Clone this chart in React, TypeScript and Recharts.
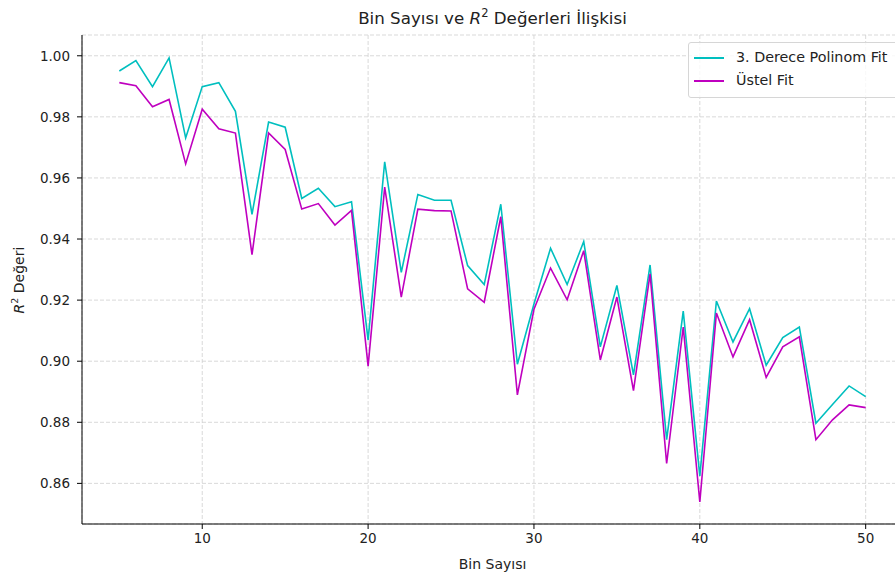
import React from 'react';
import {
  LineChart,
  Line,
  XAxis,
  YAxis,
  CartesianGrid,
} from 'recharts';

const binCounts = [
  5, 6, 7, 8, 9, 10, 11, 12, 13, 14, 15, 16, 17, 18, 19, 20, 21, 22, 23, 24, 25, 26, 27,
  28, 29, 30, 31, 32, 33, 34, 35, 36, 37, 38, 39, 40, 41, 42, 43, 44, 45, 46, 47, 48, 49, 50,
];

const polyFit = [
  0.995, 0.9984, 0.9899, 0.9993, 0.9731, 0.9899, 0.9912, 0.9818, 0.9481, 0.9783, 0.9766,
  0.9533, 0.9566, 0.9506, 0.9522, 0.9069, 0.9653, 0.9291, 0.9546, 0.9527, 0.9527, 0.9313,
  0.9251, 0.9514, 0.899, 0.9187, 0.937, 0.9251, 0.9392, 0.9047, 0.9248, 0.8955, 0.9315,
  0.8743, 0.9164, 0.8624, 0.9197, 0.9063, 0.9172, 0.8987, 0.9077, 0.9112, 0.8797, 0.8858,
  0.8919, 0.8884,
];

const expFit = [
  0.9912, 0.9902, 0.9833, 0.9857, 0.9646, 0.9825, 0.9761, 0.9747, 0.9349, 0.9747, 0.9693,
  0.9498, 0.9516, 0.9446, 0.9494, 0.8984, 0.957, 0.921, 0.9498, 0.9493, 0.9492, 0.9237,
  0.9193, 0.9473, 0.889, 0.917, 0.9305, 0.9201, 0.9362, 0.9004, 0.921, 0.8904, 0.9286,
  0.8665, 0.9112, 0.8539, 0.9158, 0.9014, 0.9136, 0.8947, 0.9047, 0.908, 0.8743, 0.8808,
  0.8857, 0.8848,
];

const xTicks = [10, 20, 30, 40, 50];
const yTicks = [0.86, 0.88, 0.9, 0.92, 0.94, 0.96, 0.98, 1.0];

const POLY_COLOR = '#00bfbf';
const EXP_COLOR = '#bf00bf';
const FONT = '"DejaVu Sans", sans-serif';

const data = binCounts.map((b, i) => ({ bin: b, poly: polyFit[i], exp: expFit[i] }));

const tickStyle = { fontSize: 13.5, fill: '#222', fontFamily: FONT };

const legendItems = [
  { name: '3. Derece Polinom Fit', color: POLY_COLOR },
  { name: 'Üstel Fit', color: EXP_COLOR },
];

export default function App() {
  return (
    <div
      style={{
        position: 'absolute',
        left: 0,
        top: 0,
        width: 895,
        height: 574,
        overflow: 'hidden',
        background: '#fff',
        fontFamily: FONT,
      }}
    >
      <LineChart
        width={920}
        height={574}
        data={data}
        margin={{ top: 35, right: 17, bottom: 0, left: 0 }}
      >
        <CartesianGrid stroke="#cfcfcf" strokeDasharray="4 2" strokeWidth={0.8} />
        <XAxis
          dataKey="bin"
          type="number"
          domain={[2.75, 52.25]}
          ticks={xTicks}
          allowDataOverflow
          height={50}
          tickSize={5}
          tickMargin={4}
          tick={tickStyle}
          axisLine={{ stroke: '#000', strokeWidth: 1 }}
          tickLine={{ stroke: '#000' }}
          label={{ value: 'Bin Sayısı', position: 'insideBottom', offset: 5, fill: '#222', fontSize: 14, fontFamily: FONT }}
        />
        <XAxis
          xAxisId="top"
          orientation="top"
          dataKey="bin"
          type="number"
          domain={[2.75, 52.25]}
          height={0}
          tick={false}
          tickLine={false}
          axisLine={{ stroke: '#000', strokeWidth: 1 }}
        />
        <YAxis
          type="number"
          domain={[0.8467, 1.0068]}
          ticks={yTicks}
          allowDataOverflow
          width={82}
          tickSize={5}
          tickMargin={7}
          tick={tickStyle}
          tickFormatter={(v: number) => v.toFixed(2)}
          axisLine={{ stroke: '#000', strokeWidth: 1 }}
          tickLine={{ stroke: '#000' }}
        />
        <Line
          xAxisId={0}
          dataKey="poly"
          name="3. Derece Polinom Fit"
          stroke={POLY_COLOR}
          strokeWidth={1.6}
          dot={false}
          activeDot={false}
          isAnimationActive={false}
        />
        <Line
          xAxisId={0}
          dataKey="exp"
          name="Üstel Fit"
          stroke={EXP_COLOR}
          strokeWidth={1.6}
          dot={false}
          activeDot={false}
          isAnimationActive={false}
        />
      </LineChart>

      {/* title, y label and legend drawn over the chart */}
      <div
        style={{
          position: 'absolute',
          left: 0,
          width: 985,
          top: 6,
          textAlign: 'center',
          fontSize: 16.7,
          color: '#222',
        }}
      >
        Bin Sayısı ve <i>R</i>
        <sup style={{ fontSize: 11.5 }}>2</sup> Değerleri İlişkisi
      </div>
      <div
        style={{
          position: 'absolute',
          left: 18,
          top: 280,
          transform: 'translate(-50%, -50%) rotate(-90deg)',
          fontSize: 14,
          whiteSpace: 'nowrap',
          color: '#222',
        }}
      >
        <i>R</i>
        <sup style={{ fontSize: 9.5 }}>2</sup> Değeri
      </div>
      <div
        style={{
          position: 'absolute',
          left: 688,
          top: 42,
          width: 240,
          height: 54,
          border: '1px solid #d6d6d6',
          borderRadius: 3,
          background: 'rgba(255,255,255,0.8)',
          padding: '0 0 0 5px',
          fontSize: 14.3,
          lineHeight: '23px',
          whiteSpace: 'nowrap',
          color: '#222',
        }}
      >
        <div style={{ height: 3 }} />
        {legendItems.map((e) => (
          <div key={e.name} style={{ display: 'flex', alignItems: 'center' }}>
            <span
              style={{ display: 'inline-block', width: 30, height: 2, background: e.color, marginRight: 12 }}
            />
            <span>{e.name}</span>
          </div>
        ))}
      </div>
    </div>
  );
}
